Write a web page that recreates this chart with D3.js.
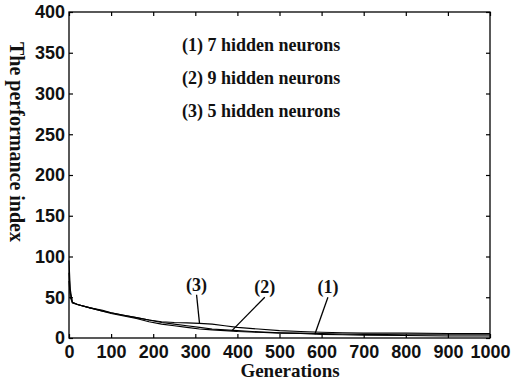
<!DOCTYPE html>
<html>
<head>
<meta charset="utf-8">
<script src="https://cdn.jsdelivr.net/npm/d3@7"></script>
<style>
  body { margin: 0; background: #fff; }
  svg { display: block; font-family: "Liberation Serif", "Times New Roman", serif; }
  .axis text { font-size: 18px; font-weight: bold; fill: #111; }
  .axis path, .axis line { stroke: #000; stroke-width: 1.2; }
  .curve { fill: none; stroke: #000; stroke-width: 1.1; }
  .note { font-size: 18px; font-weight: bold; fill: #111; }
  .legend { font-size: 18px; font-weight: bold; fill: #111; }
</style>
</head>
<body>
<svg id="chart" width="515" height="382"></svg>
<script>
// generations sampled along the curves
var gens = [0, 3, 8, 20, 50, 80, 100, 130, 160, 190, 220, 250, 280, 310, 340, 370, 400, 450, 500, 550, 600, 650, 700, 800, 900, 1000];
// performance index per network
var neurons7 = [95, 60, 44, 41, 37, 33, 30, 27, 24, 20, 17, 15, 13, 11, 10, 9, 8, 7, 6, 5.5, 4.5, 4, 3.5, 3, 2.5, 2.5];
var neurons9 = [80, 55, 44, 41, 37, 34, 31, 28, 25, 22, 19, 17, 15, 13, 11, 10, 9, 7.5, 6.5, 6, 5.5, 5, 4.5, 4, 4, 4];
var neurons5 = [70, 50, 43, 41, 37, 33, 31, 28, 25, 22, 20, 19, 18.5, 18, 17, 15, 13, 11, 9, 8, 7, 6.5, 6, 6, 5.5, 5.5];

var legendLines = ["(1) 7 hidden neurons", "(2) 9 hidden neurons", "(3) 5 hidden neurons"];
var xTicks = [0, 100, 200, 300, 400, 500, 600, 700, 800, 900, 1000];
var yTicks = [0, 50, 100, 150, 200, 250, 300, 350, 400];
// curve labels: text, label position (gen, value), pointer end (gen, value)
var pointers = [
  { text: "(3)", lx: 303, ly: 58, px: 310, py: 18 },
  { text: "(2)", lx: 465, ly: 55, px: 387, py: 9 },
  { text: "(1)", lx: 615, ly: 55, px: 584, py: 4.5 }
];

var plotL = 69, plotR = 490, plotT = 12, plotB = 338;
var svg = d3.select("#chart");

var x = d3.scaleLinear().domain([0, 1000]).range([plotL, plotR]);
var y = d3.scaleLinear().domain([0, 400]).range([plotB, plotT]);

// frame
svg.append("rect")
  .attr("x", plotL).attr("y", plotT)
  .attr("width", plotR - plotL).attr("height", plotB - plotT)
  .attr("fill", "none").attr("stroke", "#000").attr("stroke-width", 1.3);

var gx = svg.append("g").attr("class", "axis")
  .attr("transform", "translate(0," + plotB + ")")
  .call(d3.axisBottom(x).tickValues(xTicks).tickSize(-4).tickPadding(7).tickFormat(d3.format("d")));
gx.select(".domain").remove();

var gy = svg.append("g").attr("class", "axis")
  .attr("transform", "translate(" + plotL + ",0)")
  .call(d3.axisLeft(y).tickValues(yTicks).tickSize(-4).tickPadding(4).tickFormat(d3.format("d")));
gy.select(".domain").remove();

// inward ticks on top and right
svg.append("g").attr("class", "axis")
  .attr("transform", "translate(0," + plotT + ")")
  .call(d3.axisTop(x).tickValues(xTicks).tickSize(-4).tickFormat(""))
  .select(".domain").remove();
svg.append("g").attr("class", "axis")
  .attr("transform", "translate(" + plotR + ",0)")
  .call(d3.axisRight(y).tickValues(yTicks).tickSize(-4).tickFormat(""))
  .select(".domain").remove();

var line = d3.line()
  .x(function(d, i) { return x(gens[i]); })
  .y(function(d) { return y(d); });

[neurons7, neurons9, neurons5].forEach(function(s) {
  svg.append("path").attr("class", "curve").attr("d", line(s));
});

// legend text
svg.selectAll(".legend").data(legendLines).enter().append("text")
  .attr("class", "legend")
  .attr("x", 182)
  .attr("y", function(d, i) { return 51 + i * 33; })
  .text(function(d) { return d; });

// curve labels with pointers
pointers.forEach(function(p) {
  svg.append("text").attr("class", "note")
    .attr("x", x(p.lx)).attr("y", y(p.ly))
    .attr("text-anchor", "middle")
    .text(p.text);
  svg.append("line")
    .attr("x1", x(p.lx)).attr("y1", y(p.ly) + 4)
    .attr("x2", x(p.px)).attr("y2", y(p.py))
    .attr("stroke", "#000").attr("stroke-width", 1.3);
});

// axis titles
svg.append("text").attr("class", "note")
  .attr("x", 290).attr("y", 377)
  .attr("text-anchor", "middle")
  .style("font-size", "19px")
  .text("Generations");

svg.append("text").attr("class", "note")
  .attr("transform", "translate(10,142) rotate(90)")
  .attr("text-anchor", "middle")
  .style("font-size", "20px")
  .text("The performance index");
</script>
</body>
</html>
